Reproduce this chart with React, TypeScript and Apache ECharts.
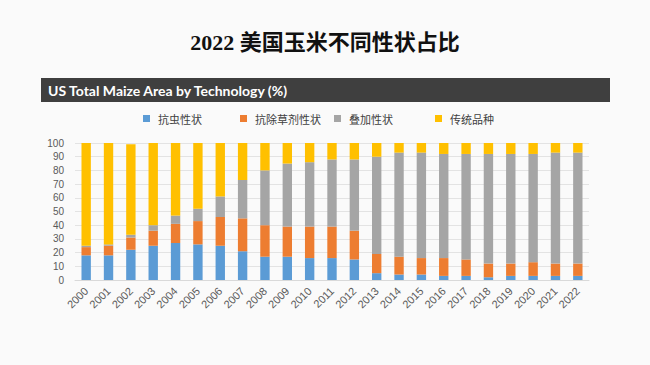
import React, { useEffect, useRef } from "react";
import * as echarts from "echarts";

const years = ["2000","2001","2002","2003","2004","2005","2006","2007","2008","2009","2010","2011","2012","2013","2014","2015","2016","2017","2018","2019","2020","2021","2022"];
const seriesNames = ["抗虫性状", "抗除草剂性状", "叠加性状", "传统品种"];
const insectResistant = [18, 18, 22, 25, 27, 26, 25, 21, 17, 17, 16, 16, 15, 5, 4, 4, 3, 3, 2, 3, 3, 3, 3];
const herbicideTolerant = [6, 7, 9, 11, 14, 17, 21, 24, 23, 22, 23, 23, 21, 14, 13, 12, 13, 12, 10, 9, 10, 9, 9];
const stacked = [1, 1, 2, 4, 6, 9, 15, 28, 40, 46, 47, 49, 52, 71, 76, 77, 76, 77, 80, 80, 79, 81, 81];
const conventional = [75, 74, 66, 60, 53, 48, 39, 27, 20, 15, 14, 12, 12, 10, 7, 7, 8, 8, 8, 8, 8, 7, 7];
const yTicks = [0, 10, 20, 30, 40, 50, 60, 70, 80, 90, 100];

const colors = ["#5B9BD5", "#ED7D31", "#A5A5A5", "#FFC000"];
const legendLefts = [143, 240, 334, 435];
const cjk = "'Noto Sans CJK SC', sans-serif";

export default function App() {
  const ref = useRef<HTMLDivElement>(null);
  useEffect(() => {
    if (!ref.current) return;
    const chart = echarts.init(ref.current, null, { renderer: "svg" });
    const values = [insectResistant, herbicideTolerant, stacked, conventional];
    chart.setOption({
      animation: false,
      backgroundColor: "#fafafa",
      color: colors,
      graphic: [
        {
          type: "text",
          x: 325,
          y: 42,
          style: {
            text: "2022 美国玉米不同性状占比",
            fontSize: 22,
            fontWeight: "bold",
            fontFamily: "'Liberation Serif', 'Noto Sans CJK SC', serif",
            fill: "#111111",
            align: "center",
            verticalAlign: "middle",
          },
        },
        {
          type: "rect",
          shape: { x: 41, y: 78, width: 569, height: 24 },
          style: { fill: "#3f3f3f" },
        },
        {
          type: "text",
          x: 48,
          y: 90,
          style: {
            text: "US Total Maize Area by Technology (%)",
            fontSize: 14,
            fontWeight: "bold",
            fontFamily: "Lato, sans-serif",
            fill: "#ffffff",
            verticalAlign: "middle",
          },
        },
      ],
      legend: seriesNames.map((n, i) => ({
        data: [n],
        left: legendLefts[i],
        top: 113,
        padding: 0,
        itemWidth: 7,
        itemHeight: 7,
        icon: "rect",
        selectedMode: false,
        textStyle: { fontSize: 11, color: "#404040", fontFamily: cjk, padding: [0, 0, 0, 3] },
      })),
      grid: { left: 75, right: 61, top: 143, bottom: 85, containLabel: false },
      xAxis: {
        type: "category",
        data: years,
        axisTick: { show: false },
        axisLine: { lineStyle: { color: "#d9d9d9" } },
        axisLabel: { rotate: 45, fontSize: 11, color: "#595959", margin: 9, interval: 0, fontFamily: "'Liberation Sans', sans-serif" },
      },
      yAxis: {
        type: "value",
        min: yTicks[0],
        max: yTicks[yTicks.length - 1],
        interval: 10,
        axisLabel: { fontSize: 10, color: "#595959", margin: 11, fontFamily: "'Liberation Sans', sans-serif" },
        splitLine: { lineStyle: { color: "#e3e3e3" } },
        axisLine: { show: false },
        axisTick: { show: false },
      },
      series: seriesNames.map((n, i) => ({
        name: n,
        type: "bar",
        stack: "total",
        barWidth: "42%",
        data: values[i],
        itemStyle: { color: colors[i] },
      })),
    });
    return () => chart.dispose();
  }, []);
  return (
    <div
      ref={ref}
      style={{ position: "fixed", left: 0, top: 0, width: 650, height: 365 }}
    />
  );
}
